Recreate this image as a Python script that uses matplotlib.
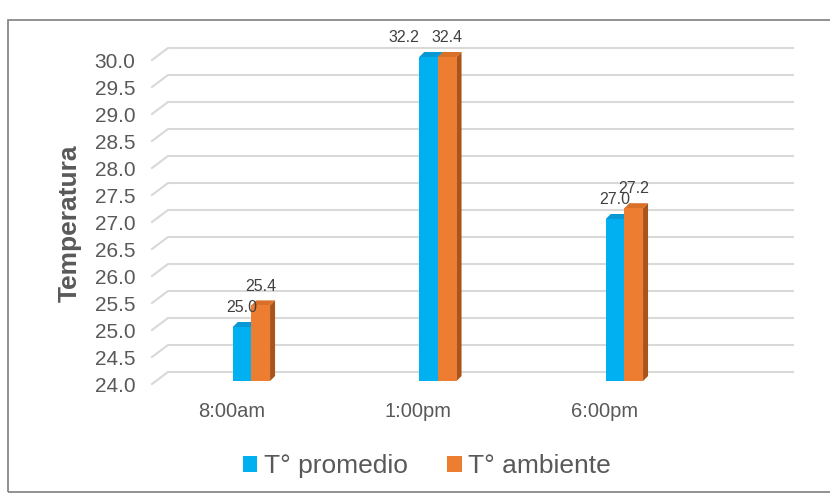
import matplotlib.pyplot as plt
from matplotlib.patches import Patch, Polygon, Rectangle
from matplotlib.transforms import ScaledTranslation

plt.rcParams['font.family'] = ['Liberation Sans', 'DejaVu Sans']

horas = ['8:00am', '1:00pm', '6:00pm']
t_promedio = [25.0, 32.2, 27.0]
t_ambiente = [25.4, 32.4, 27.2]
series = ['T° promedio', 'T° ambiente']

y_min, y_max = 24.0, 30.0
y_ticks = [24.0 + 0.5 * k for k in range(13)]

text_col = '#595959'
grid_col = '#D9D9D9'
front_cols = ['#00B0F0', '#ED7D31']
top_cols = ['#0998D4', '#D96F29']
side_cols = ['#0080B0', '#A9541D']

DPI = 100
fig = plt.figure(figsize=(8.3, 4.98), dpi=DPI)
W, H = 830, 498

# front plane of the floor, in pixels
left_px, right_px, top_px, bot_px = 152, 777, 60, 384
ax = fig.add_axes([left_px / W, 1 - bot_px / H,
                   (right_px - left_px) / W, (bot_px - top_px) / H])
cat_px = 186.5
x_lo = (left_px - 232) / cat_px
x_hi = (right_px - 232) / cat_px
ax.set_xlim(x_lo, x_hi)
ax.set_ylim(y_min, y_max)
for s in ax.spines.values():
    s.set_visible(False)

px_x = (x_hi - x_lo) / (right_px - left_px)  # data units per pixel
px_y = (y_max - y_min) / (bot_px - top_px)

# back wall gridlines with a short slanted stub on the side wall
gdx, gdy = 16 * px_x, 12 * px_y
for yv in y_ticks:
    ax.plot([x_lo, x_lo + gdx, x_hi + gdx], [yv, yv + gdy, yv + gdy],
            color=grid_col, lw=1.5, clip_on=False, zorder=1)

ax.set_yticks(y_ticks)
ax.set_yticklabels([f'{v:.1f}' for v in y_ticks])
ax.set_xticks(range(len(horas)))
ax.set_xticklabels(horas)
ax.tick_params(axis='y', length=0, pad=12, labelsize=15, labelcolor=text_col)
ax.tick_params(axis='x', length=0, pad=13, labelsize=14.5, labelcolor=text_col)

# pseudo-3D columns: front face, top and right side
shift = ax.transData + ScaledTranslation(0, 3 / DPI, fig.dpi_scale_trans)
bw = 0.1
offsets = [0.054, 0.154]
ddx, ddy = 5 * px_x, 5 * px_y
for s_idx, vals in enumerate([t_promedio, t_ambiente]):
    for i, v in enumerate(vals):
        top = min(v, y_max)
        x0 = i + offsets[s_idx] - bw / 2
        x1 = x0 + bw
        ax.add_patch(Polygon([(x1, y_min), (x1, top), (x1 + ddx, top + ddy),
                              (x1 + ddx, y_min + ddy)], closed=True,
                             fc=side_cols[s_idx], ec='none', transform=shift,
                             clip_on=False, zorder=2 + s_idx))
        ax.add_patch(Polygon([(x0, top), (x1, top), (x1 + ddx, top + ddy),
                              (x0 + ddx, top + ddy)], closed=True,
                             fc=top_cols[s_idx], ec='none', transform=shift,
                             clip_on=False, zorder=2 + s_idx))
        ax.add_patch(Rectangle((x0, y_min), bw, top - y_min,
                               fc=front_cols[s_idx], ec='none', transform=shift,
                               clip_on=False, zorder=2 + s_idx))
        # labels of clipped columns would collide, push the first one left
        nudge = -18 if (s_idx == 0 and v > y_max and t_ambiente[i] > y_max) else 0
        ax.annotate(f'{v:.1f}', (i + offsets[s_idx], top),
                    xytext=(nudge, 16), textcoords='offset points',
                    ha='center', va='center', fontsize=11.5, color='#404040',
                    zorder=5, annotation_clip=False)

fig.text(70 / W, 1 - 223 / H, 'Temperatura', rotation=90, ha='center',
         va='center', fontsize=19, fontweight='bold', color=text_col)

handles = [Patch(fc=c, ec='none') for c in front_cols]
fig.legend(handles, series, loc='center', bbox_to_anchor=(427 / W, 1 - 466 / H),
           ncol=2, frameon=False, fontsize=19, handlelength=0.55,
           handleheight=0.55, handletextpad=0.25, columnspacing=1.5,
           labelcolor=text_col)

# chart border, its right edge runs past the image
fig.add_artist(plt.Rectangle((8 / W, 1 - 492 / H), 900 / W, 472 / H,
                             transform=fig.transFigure, fill=False,
                             ec='#7F7F7F', lw=1.2))

fig.savefig('out.png', dpi=DPI)
